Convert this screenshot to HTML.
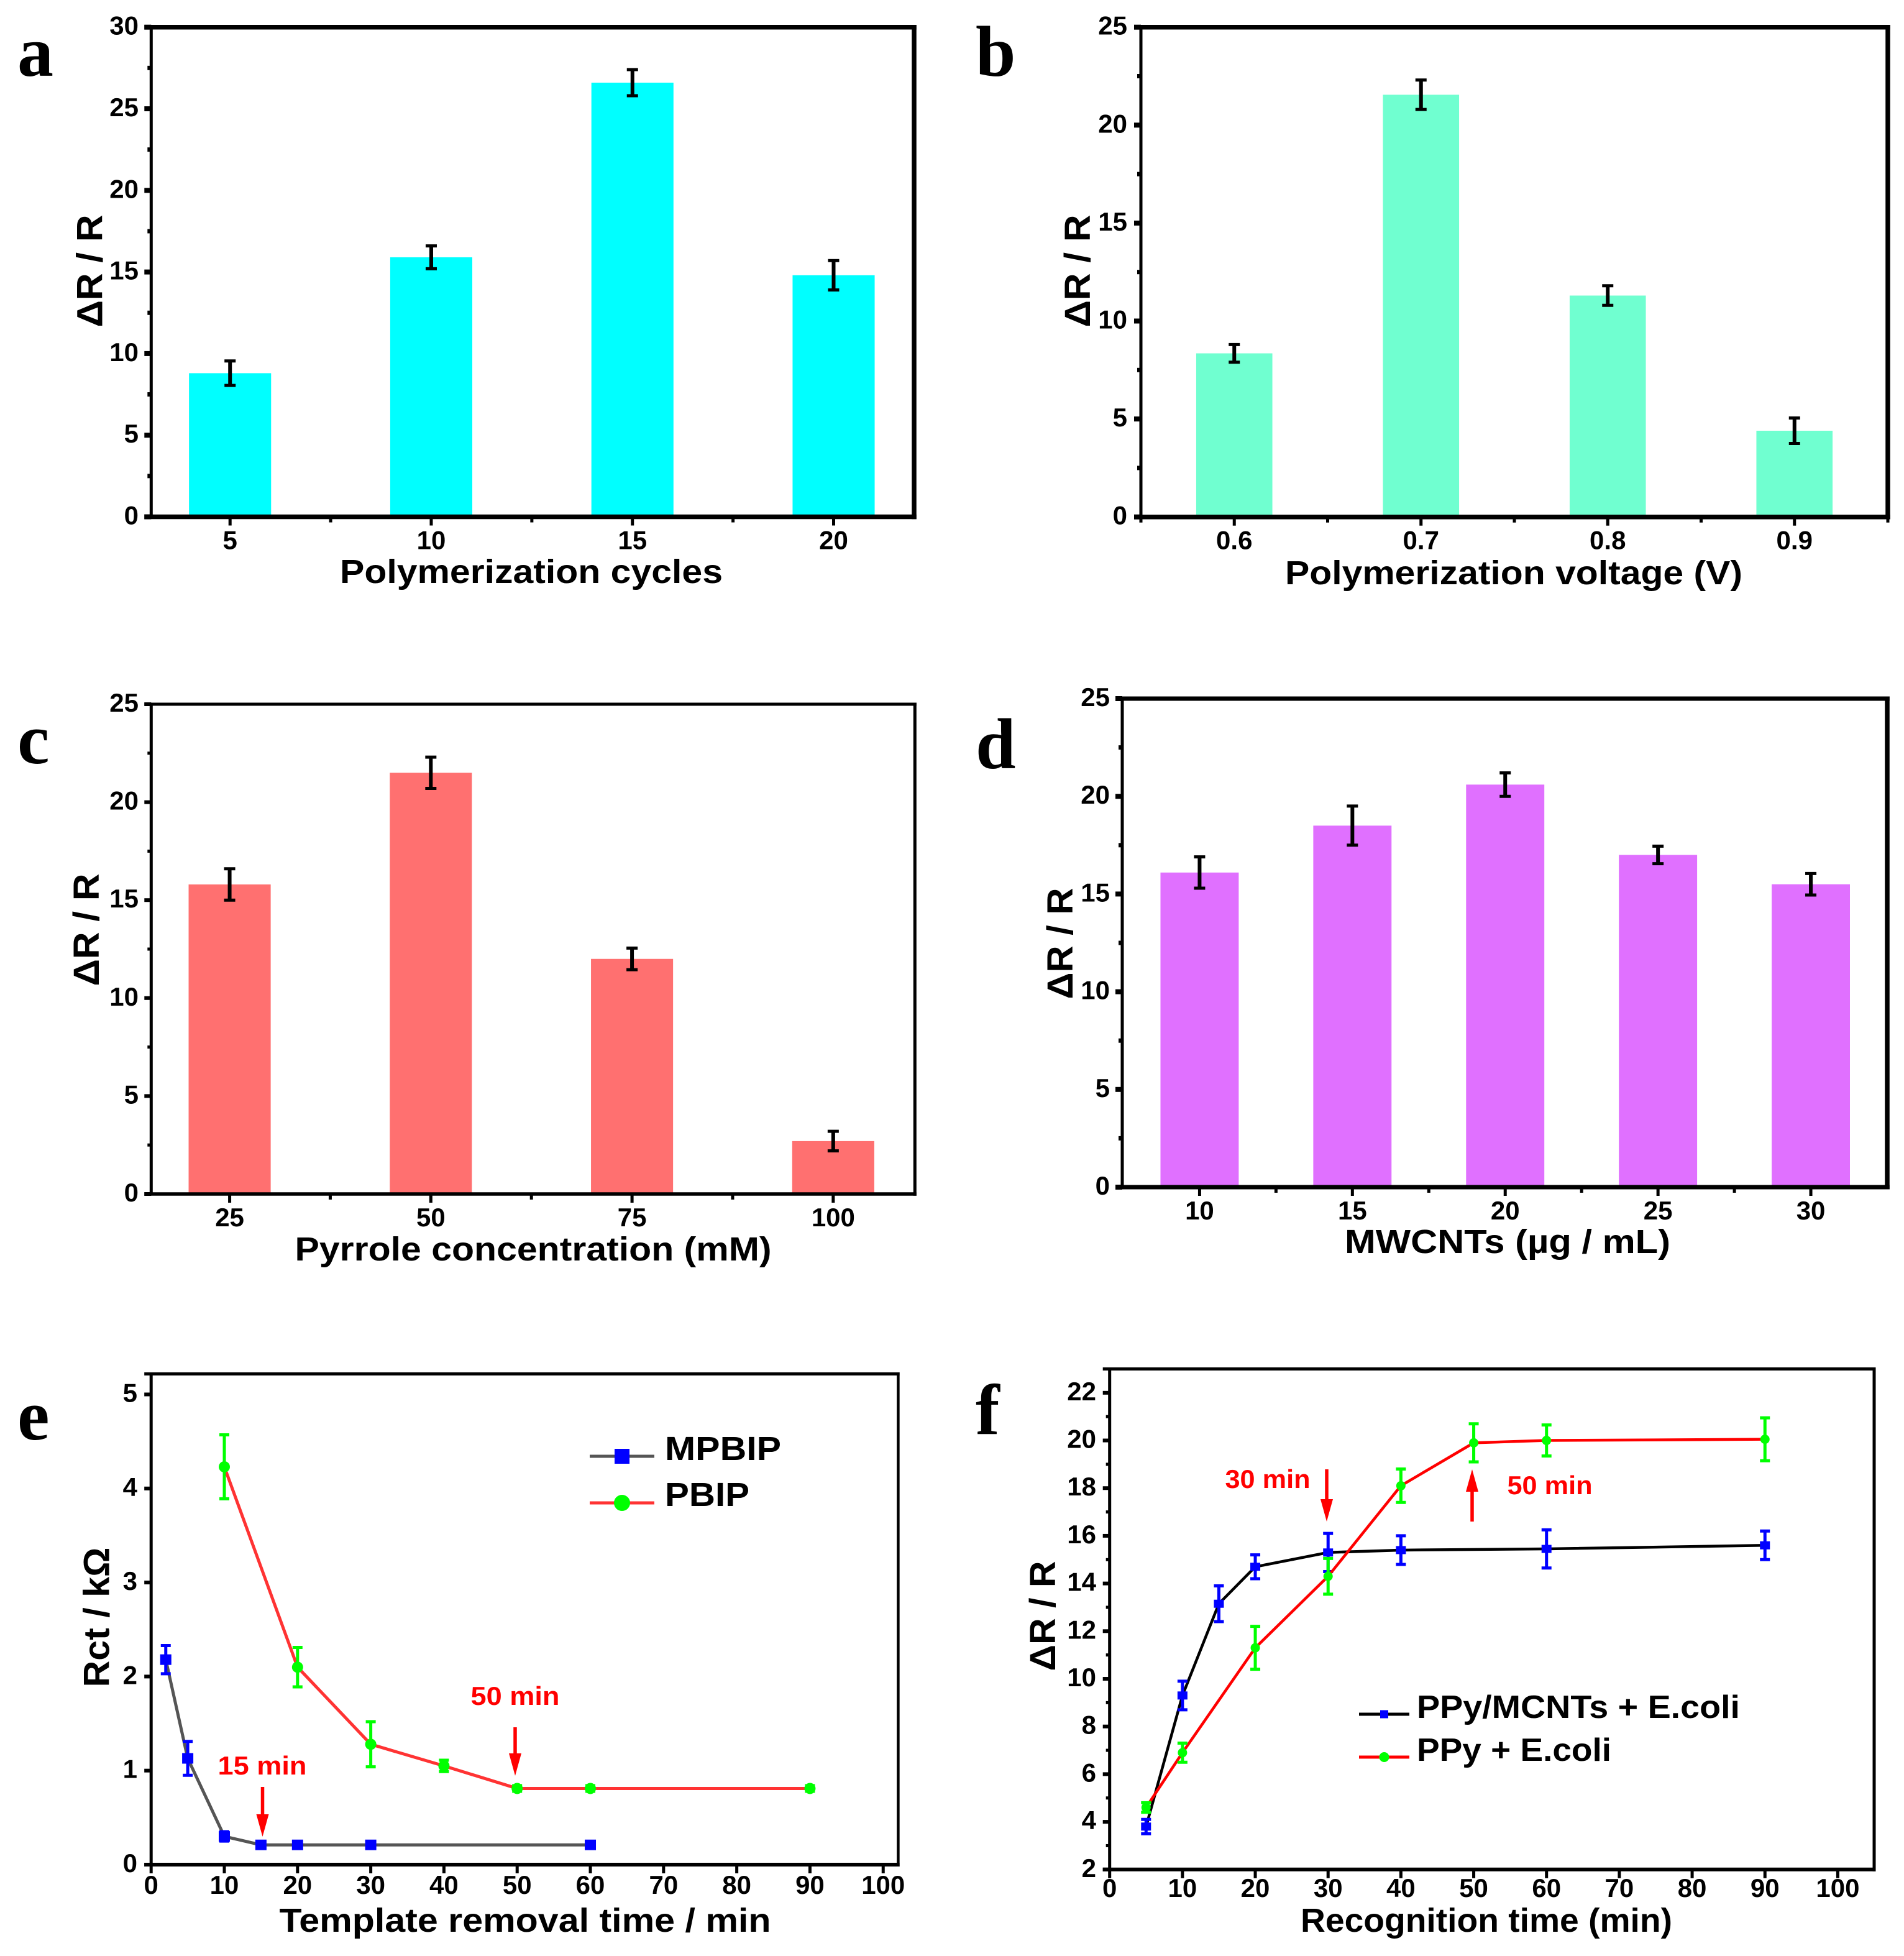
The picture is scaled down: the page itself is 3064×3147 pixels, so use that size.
<!DOCTYPE html>
<html lang="en">
<head>
<meta charset="utf-8">
<title>Optimization of polymerization and recognition conditions</title>
<style>
html,body{margin:0;padding:0;background:#fff;}
svg{display:block;font-family:"Liberation Sans",Arial,sans-serif;}
.letter{font-family:"Liberation Serif","Times New Roman",serif;font-weight:700;font-size:116px;fill:#000;}
text{font-weight:700;fill:#000;}
</style>
</head>
<body>
<svg id="figure" xmlns="http://www.w3.org/2000/svg" width="3064" height="3147" viewBox="0 0 3064 3147">
  <rect width="3064" height="3147" fill="#fff"/>
  <g id="panel-a"></g>
  <g id="panel-b"></g>
  <g id="panel-c"></g>
  <g id="panel-d"></g>
  <g id="panel-e"></g>
  <g id="panel-f"></g>
  <text class="letter" x="28" y="122">a</text>
  <text class="letter" x="1570" y="122">b</text>
  <text class="letter" x="28" y="1228">c</text>
  <text class="letter" x="1570" y="1236">d</text>
  <text class="letter" x="28" y="2316">e</text>
  <text class="letter" x="1570" y="2307">f</text>
</svg>
<script>
// Panel a
const aCategories = [5, 10, 15, 20];
const aValues = [8.8, 15.9, 26.6, 14.8];
const aErrors = [0.75, 0.7, 0.8, 0.9];
const aYTicks = [0, 5, 10, 15, 20, 25, 30];
// Panel b
const bCategories = [0.6, 0.7, 0.8, 0.9];
const bValues = [8.35, 21.55, 11.3, 4.4];
const bErrors = [0.45, 0.75, 0.5, 0.65];
const bYTicks = [0, 5, 10, 15, 20, 25];
// Panel c
const cCategories = [25, 50, 75, 100];
const cValues = [15.8, 21.5, 12, 2.7];
const cErrors = [0.8, 0.8, 0.55, 0.5];
const cYTicks = [0, 5, 10, 15, 20, 25];
// Panel d
const dCategories = [10, 15, 20, 25, 30];
const dValues = [16.1, 18.5, 20.6, 17, 15.5];
const dErrors = [0.8, 1.0, 0.6, 0.45, 0.55];
const dYTicks = [0, 5, 10, 15, 20, 25];
// Panel e
const eXTicks = [0, 10, 20, 30, 40, 50, 60, 70, 80, 90, 100];
const eYTicks = [0, 1, 2, 3, 4, 5];
const mpbipTimes = [2, 5, 10, 15, 20, 30, 60];
const mpbipValues = [2.18, 1.13, 0.3, 0.21, 0.21, 0.21, 0.21];
const mpbipErrors = [0.15, 0.18, 0.05, 0.03, 0.03, 0.03, 0.03];
const pbipTimes = [10, 20, 30, 40, 50, 60, 90];
const pbipValues = [4.23, 2.1, 1.28, 1.05, 0.81, 0.81, 0.81];
const pbipErrors = [0.34, 0.21, 0.24, 0.06, 0.03, 0.03, 0.03];
// Panel f
const fXTicks = [0, 10, 20, 30, 40, 50, 60, 70, 80, 90, 100];
const fYTicks = [2, 4, 6, 8, 10, 12, 14, 16, 18, 20, 22];
const mcntTimes = [5, 10, 15, 20, 30, 40, 60, 90];
const mcntValues = [3.8, 9.3, 13.15, 14.7, 15.3, 15.4, 15.45, 15.6];
const mcntErrors = [0.3, 0.6, 0.75, 0.5, 0.8, 0.6, 0.8, 0.6];
const ppyTimes = [5, 10, 20, 30, 40, 50, 60, 90];
const ppyValues = [4.6, 6.9, 11.3, 14.3, 18.1, 19.9, 20, 20.05];
const ppyErrors = [0.2, 0.4, 0.9, 0.75, 0.7, 0.8, 0.65, 0.9];

const NS = 'http://www.w3.org/2000/svg';

function node(parent, tag, name, attrs) {
  const el = document.createElementNS(NS, tag);
  
  
  for (const k in attrs) el.setAttribute(k, attrs[k]);
  parent.appendChild(el);
  return el;
}
function label(parent, name, str, attrs) {
  const el = node(parent, 'text', name, attrs);
  el.textContent = str;
  return el;
}
function makeScale(d0, d1, r0, r1) {
  return function (v) { return r0 + (v - d0) * (r1 - r0) / (d1 - d0); };
}

function drawAxes(g, c) {
  const x = c.x, y = c.y;
  c.xTicks.forEach(function (t) {
    node(g, 'line', 'x-axis-tick', {x1: x(t), x2: x(t), y1: c.bottom, y2: c.bottom + 14, stroke: '#000', 'stroke-width': 5});
    label(g, 'x-tick-label', c.xFormat ? c.xFormat(t) : String(t), {x: x(t), y: c.xLabelY, 'text-anchor': 'middle', 'font-size': 42});
  });
  (c.xMinor || []).forEach(function (t) {
    node(g, 'line', 'x-axis-minor-tick', {x1: x(t), x2: x(t), y1: c.bottom, y2: c.bottom + 9, stroke: '#000', 'stroke-width': 5});
  });
  c.yTicks.forEach(function (t) {
    node(g, 'line', 'y-axis-tick', {x1: c.left - 11, x2: c.left, y1: y(t), y2: y(t), stroke: '#000', 'stroke-width': c.tickH});
    label(g, 'y-tick-label', String(t), {x: c.yLabelX, y: y(t) + 12, 'text-anchor': 'end', 'font-size': 42});
  });
  (c.yMinor || []).forEach(function (t) {
    node(g, 'line', 'y-axis-minor-tick', {x1: c.left - 6, x2: c.left, y1: y(t), y2: y(t), stroke: '#000', 'stroke-width': c.tickH - 1});
  });
  label(g, 'x-axis-title', c.xTitle, {x: c.xTitleX, y: c.xTitleY, 'text-anchor': 'middle', 'font-size': 54, textLength: c.xTitleLen, lengthAdjust: 'spacingAndGlyphs'});
  const yt = label(g, 'y-axis-title', c.yTitle, {x: 0, y: 0, 'text-anchor': 'middle', 'font-size': 58, textLength: c.yTitleLen, lengthAdjust: 'spacingAndGlyphs'});
  yt.setAttribute('transform', 'translate(' + c.yTitleX + ',' + c.yTitleY + ') rotate(-90)');
}
function drawFrame(g, c) {
  const f = c.frame;
  node(g, 'line', 'frame-top', {x1: c.left - 11, x2: c.right + f.r / 2, y1: c.top, y2: c.top, stroke: '#000', 'stroke-width': f.t});
  node(g, 'line', 'frame-bottom', {x1: c.left - 11, x2: c.right + f.r / 2, y1: c.bottom, y2: c.bottom, stroke: '#000', 'stroke-width': f.b});
  node(g, 'line', 'frame-left', {x1: c.left, x2: c.left, y1: c.top, y2: c.bottom, stroke: '#000', 'stroke-width': f.l});
  node(g, 'line', 'frame-right', {x1: c.right, x2: c.right, y1: c.top - f.t / 2, y2: c.bottom + f.b / 2, stroke: '#000', 'stroke-width': f.r});
}

function barChart(id, c, categories, values, errors) {
  const g = document.getElementById(id);
  c.x = makeScale(c.xDomain[0], c.xDomain[1], c.left, c.right);
  c.y = makeScale(c.yDomain[0], c.yDomain[1], c.bottom, c.top);
  c.xTicks = categories;
  drawAxes(g, c);
  categories.forEach(function (cat, i) {
    const cx = c.x(cat);
    const w = c.x(cat + c.barWidth / 2) - c.x(cat - c.barWidth / 2);
    const top = c.y(values[i]);
    node(g, 'rect', 'bar-' + cat, {x: cx - w / 2, y: top, width: w, height: c.bottom - top, fill: c.color});
  });
  drawFrame(g, c);
  categories.forEach(function (cat, i) {
    const cx = c.x(cat);
    const hi = c.y(values[i] + errors[i]);
    const lo = c.y(values[i] - errors[i]);
    node(g, 'line', 'error-bar-' + cat, {x1: cx, x2: cx, y1: hi, y2: lo, stroke: '#000', 'stroke-width': 6});
    node(g, 'line', 'error-cap-top-' + cat, {x1: cx - 9, x2: cx + 9, y1: hi, y2: hi, stroke: '#000', 'stroke-width': 5});
    node(g, 'line', 'error-cap-bottom-' + cat, {x1: cx - 9, x2: cx + 9, y1: lo, y2: lo, stroke: '#000', 'stroke-width': 5});
  });
}

function drawSeries(g, c, s, times, values, errors) {
  const pts = times.map(function (t, i) { return c.x(t) + ',' + c.y(values[i]); }).join(' ');
  node(g, 'polyline', s.name + '-line', {points: pts, fill: 'none', stroke: s.lineColor, 'stroke-width': s.lineWidth});
  times.forEach(function (t, i) {
    const cx = c.x(t);
    const cy = c.y(values[i]);
    const hi = c.y(values[i] + errors[i]);
    const lo = c.y(values[i] - errors[i]);
    node(g, 'line', s.name + '-error-bar', {x1: cx, x2: cx, y1: hi, y2: lo, stroke: s.markColor, 'stroke-width': 5});
    node(g, 'line', s.name + '-error-cap-top', {x1: cx - 8, x2: cx + 8, y1: hi, y2: hi, stroke: s.markColor, 'stroke-width': 5});
    node(g, 'line', s.name + '-error-cap-bottom', {x1: cx - 8, x2: cx + 8, y1: lo, y2: lo, stroke: s.markColor, 'stroke-width': 5});
    if (s.shape === 'square') {
      node(g, 'rect', s.name + '-point', {x: cx - s.size, y: cy - s.sizeY, width: s.size * 2, height: s.sizeY * 2, fill: s.markColor});
    } else {
      node(g, 'circle', s.name + '-point', {cx: cx, cy: cy, r: s.size, fill: s.markColor});
    }
  });
}

function arrow(g, name, x, y0, y1) {
  const dir = y1 > y0 ? 1 : -1;
  node(g, 'line', name + '-shaft', {x1: x, x2: x, y1: y0, y2: y1 - dir * 30, stroke: '#f00', 'stroke-width': 5.5});
  node(g, 'polygon', name + '-head', {points: (x - 10) + ',' + (y1 - dir * 36) + ' ' + (x + 10) + ',' + (y1 - dir * 36) + ' ' + x + ',' + y1, fill: '#f00'});
}
function note(g, name, str, x, y, len) {
  const el = label(g, name, str, {x: x, y: y, 'text-anchor': 'middle', 'font-size': 42, textLength: len, lengthAdjust: 'spacingAndGlyphs'});
  el.style.fill = '#f00';
}
function legendEntry(g, s, x0, x1, y, textX, textY, str, fs, len) {
  node(g, 'line', s.name + '-legend-line', {x1: x0, x2: x1, y1: y, y2: y, stroke: s.lineColor, 'stroke-width': 5});
  const m = (x0 + x1) / 2;
  if (s.shape === 'square') {
    node(g, 'rect', s.name + '-legend-marker', {x: m - s.legendSize, y: y - s.legendSize, width: s.legendSize * 2, height: s.legendSize * 2, fill: s.markColor});
  } else {
    node(g, 'circle', s.name + '-legend-marker', {cx: m, cy: y, r: s.legendSize, fill: s.markColor});
  }
  label(g, s.name + '-legend-label', str, {x: textX, y: textY, 'font-size': fs, textLength: len, lengthAdjust: 'spacingAndGlyphs'});
}

barChart('panel-a', {
  left: 243.3, right: 1471, top: 43.7, bottom: 831.5,
  frame: {t: 7.5, b: 7.5, l: 5, r: 7.5}, tickH: 8,
  xDomain: [3.04, 22], yDomain: [0, 30], barWidth: 2.04, color: '#00ffff',
  yTicks: aYTicks, yMinor: [2.5, 7.5, 12.5, 17.5, 22.5, 27.5], xMinor: [7.5, 12.5, 17.5],
  xLabelY: 883.5, yLabelX: 223,
  xTitle: 'Polymerization cycles', xTitleX: 855, xTitleY: 938, xTitleLen: 616,
  yTitle: '\u0394R / R', yTitleX: 164.5, yTitleY: 436, yTitleLen: 181
}, aCategories, aValues, aErrors);

barChart('panel-b', {
  left: 1836, right: 3038, top: 43.7, bottom: 831.7,
  frame: {t: 7.5, b: 7.5, l: 5, r: 7.5}, tickH: 8,
  xDomain: [0.55, 0.95], yDomain: [0, 25], barWidth: 0.0408, color: '#70ffd0',
  yTicks: bYTicks, yMinor: [2.5, 7.5, 12.5, 17.5, 22.5], xMinor: [0.55, 0.65, 0.75, 0.85, 0.95],
  xFormat: function (t) { return t.toFixed(1); },
  xLabelY: 883.5, yLabelX: 1814,
  xTitle: 'Polymerization voltage (V)', xTitleX: 2436, xTitleY: 940, xTitleLen: 736,
  yTitle: '\u0394R / R', yTitleX: 1754, yTitleY: 436, yTitleLen: 181
}, bCategories, bValues, bErrors);

barChart('panel-c', {
  left: 243.3, right: 1472.3, top: 1133, bottom: 1921,
  frame: {t: 5, b: 5.5, l: 5, r: 5}, tickH: 6,
  xDomain: [15.25, 110.15], yDomain: [0, 25], barWidth: 10.2, color: '#ff7070',
  yTicks: cYTicks, yMinor: [2.5, 7.5, 12.5, 17.5, 22.5], xMinor: [37.5, 62.5, 87.5],
  xLabelY: 1973, yLabelX: 223,
  xTitle: 'Pyrrole concentration (mM)', xTitleX: 858, xTitleY: 2028, xTitleLen: 767,
  yTitle: '\u0394R / R', yTitleX: 159, yTitleY: 1496, yTitleLen: 181
}, cCategories, cValues, cErrors);

barChart('panel-d', {
  left: 1806, right: 3037, top: 1124, bottom: 1910,
  frame: {t: 7, b: 7, l: 5, r: 7.5}, tickH: 8,
  xDomain: [7.47, 32.5], yDomain: [0, 25], barWidth: 2.56, color: '#e070ff',
  yTicks: dYTicks, yMinor: [2.5, 7.5, 12.5, 17.5, 22.5], xMinor: [12.5, 17.5, 22.5, 27.5],
  xLabelY: 1962, yLabelX: 1786,
  xTitle: 'MWCNTs (\u00b5g / mL)', xTitleX: 2426, xTitleY: 2016, xTitleLen: 524,
  yTitle: '\u0394R / R', yTitleX: 1726, yTitleY: 1518, yTitleLen: 179
}, dCategories, dValues, dErrors);

(function () {
  const g = document.getElementById('panel-e');
  const c = {
    left: 243.2, right: 1445.4, top: 2210.5, bottom: 3000,
    frame: {t: 5, b: 6, l: 5, r: 4.5}, tickH: 6,
    yTicks: eYTicks, xTicks: eXTicks,
    xLabelY: 3047, yLabelX: 221,
    xTitle: 'Template removal time / min', xTitleX: 845, xTitleY: 3108, xTitleLen: 791,
    yTitle: 'Rct / k\u03a9', yTitleX: 175.6, yTitleY: 2602, yTitleLen: 225
  };
  c.x = makeScale(0, 102.05, c.left, c.right);
  c.y = makeScale(0, 5.218, c.bottom, c.top);
  drawAxes(g, c);
  drawFrame(g, c);
  const mp = {name: 'mpbip', lineColor: '#555', lineWidth: 5, markColor: '#0000ff', shape: 'square', size: 9, sizeY: 8.5, legendSize: 12};
  const pb = {name: 'pbip', lineColor: '#ff3333', lineWidth: 5, markColor: '#00ff00', shape: 'circle', size: 9, legendSize: 13};
  drawSeries(g, c, mp, mpbipTimes, mpbipValues, mpbipErrors);
  drawSeries(g, c, pb, pbipTimes, pbipValues, pbipErrors);
  note(g, 'annotation-15-min', '15 min', 422, 2855, 143);
  arrow(g, 'arrow-15-min', 422.5, 2875, 2955);
  note(g, 'annotation-50-min', '50 min', 829, 2743, 143);
  arrow(g, 'arrow-50-min', 829, 2779, 2857);
  legendEntry(g, mp, 949, 1053, 2343, 1070, 2349, 'MPBIP', 54, 187);
  legendEntry(g, pb, 949, 1053, 2418, 1070, 2423, 'PBIP', 54, 136);
})();

(function () {
  const g = document.getElementById('panel-f');
  const c = {
    left: 1785.7, right: 3016, top: 2202.5, bottom: 3007.8,
    frame: {t: 5, b: 6, l: 5, r: 5}, tickH: 6,
    yTicks: fYTicks, xTicks: fXTicks,
    yMinor: [3, 5, 7, 9, 11, 13, 15, 17, 19, 21],
    xLabelY: 3052, yLabelX: 1764,
    xTitle: 'Recognition time (min)', xTitleX: 2392, xTitleY: 3108, xTitleLen: 598,
    yTitle: '\u0394R / R', yTitleX: 1698, yTitleY: 2600, yTitleLen: 177
  };
  c.x = makeScale(0, 105, c.left, c.right);
  c.y = makeScale(2, 23, c.bottom, c.top);
  drawAxes(g, c);
  drawFrame(g, c);
  const mc = {name: 'ppy-mcnts', lineColor: '#000', lineWidth: 4.5, markColor: '#0000ff', shape: 'square', size: 8, sizeY: 6.5, legendSize: 6.5};
  const pp = {name: 'ppy', lineColor: '#ff0000', lineWidth: 4.5, markColor: '#00ff00', shape: 'circle', size: 7.5, legendSize: 8};
  drawSeries(g, c, mc, mcntTimes, mcntValues, mcntErrors);
  drawSeries(g, c, pp, ppyTimes, ppyValues, ppyErrors);
  note(g, 'annotation-30-min', '30 min', 2040, 2394, 137);
  arrow(g, 'arrow-30-min', 2135, 2364, 2448);
  note(g, 'annotation-50-min', '50 min', 2494, 2404, 137);
  arrow(g, 'arrow-50-min', 2369, 2448, 2364);
  legendEntry(g, mc, 2187, 2268, 2758, 2280, 2764, 'PPy/MCNTs + E.coli', 52, 520);
  legendEntry(g, pp, 2187, 2268, 2827, 2280, 2833, 'PPy + E.coli', 52, 313);
})();
</script>
</body>
</html>
